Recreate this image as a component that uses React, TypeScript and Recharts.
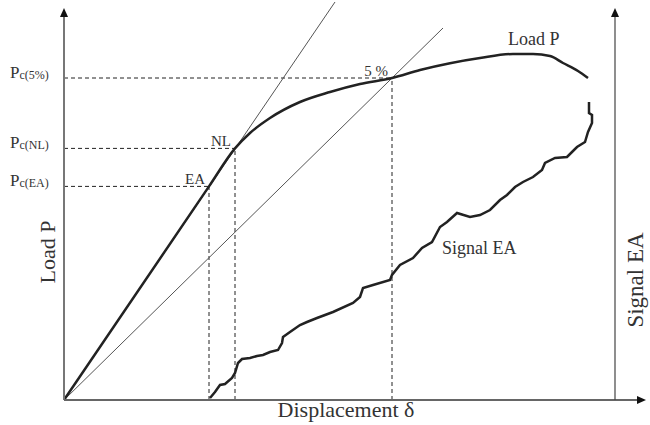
import React from "react";
import { ComposedChart, Line, XAxis, YAxis, ReferenceLine, ReferenceDot } from "recharts";

// load curve P(δ) (displacement / load, arbitrary units)
const loadDisp = [0, 29, 34.2, 37.2, 41.2, 47.2, 53.2, 59.2, 65.6, 71.2, 77.2, 83.2, 89.8, 93.8, 97.2, 99.8, 102.8, 104.8];
const loadVal = [0, 53.4, 62.9, 66.75, 70.5, 74.5, 77, 79, 80.5, 82.5, 84.2, 85.5, 86.5, 86.5, 86, 84.25, 82.25, 80.5];

// acoustic emission signal
const signalDisp = [
  29.2, 30.2, 31.2, 32.2, 33.6, 34.2, 34.8, 35.6, 37.2, 38.6, 39.8, 41.2, 42.8, 43.6, 43.8,
  45.2, 47.2, 48.6, 50.6, 53.8, 57.8, 59.2, 59.8, 61.8, 65.2, 65.6, 67.2, 69.8, 71.6, 73.6,
  75.2, 76.6, 78.6, 81.2, 83.2, 85.2, 87.2, 88.6, 90.2, 91.8, 93.8, 95.6, 96.2, 98.2, 100.6,
  101.6, 102.6, 104.2, 104.8, 105.6, 105.6, 105, 105,
];
const signalVal = [
  0.5, 2, 3.75, 4, 5.5, 6.75, 9.25, 10.25, 10.5, 11, 11.25, 12, 12.5, 14.25, 15.75,
  17, 18.75, 19.5, 20.5, 22, 24.25, 25.75, 28, 28.75, 30, 31.25, 33.75, 35.5, 38, 39.5,
  43.25, 44.5, 46.75, 45.75, 46.25, 47.5, 50, 51.25, 53.25, 54.5, 55.75, 57.5, 59.25, 60.5, 60.75,
  62, 63.25, 64.5, 67, 69.25, 71.25, 71.75, 74.5,
];

// construction lines from the origin: initial tangent and 5 % offset secant
const tangentEnd = [54.2, 99.5];
const secantEnd = [75.8, 93];

// characteristic points
const pointNames = ["EA", "NL", "5 %"];
const pointDisp = [29, 34.2, 65.6];
const pointLoad = [53.4, 62.9, 80.5];
const levelLabels = ["EA", "NL", "5%"];

// axis extents
const xMax = 116.4;
const yTop = 98;
const signalAxisX = 110.2;

const zip = (xs: number[], ys: number[]) => xs.map((x, i) => ({ x, y: ys[i] }));
const loadData = zip(loadDisp, loadVal);
const signalData = zip(signalDisp, signalVal);
const tangentData = [{ x: 0, y: 0 }, { x: tangentEnd[0], y: tangentEnd[1] }];
const secantData = [{ x: 0, y: 0 }, { x: secantEnd[0], y: secantEnd[1] }];

const FONT = '"Liberation Serif", "Times New Roman", serif';
const INK = "#222";

const Arrow = (color: string, width: number) => (p: any) => {
  const { x1, y1, x2, y2 } = p;
  const ang = Math.atan2(y2 - y1, x2 - x1);
  const len = 9;
  const half = 4;
  const bx = x2 - len * Math.cos(ang);
  const by = y2 - len * Math.sin(ang);
  const nx = -Math.sin(ang) * half;
  const ny = Math.cos(ang) * half;
  return (
    <g>
      <line x1={x1} y1={y1} x2={bx} y2={by} stroke={color} strokeWidth={width} />
      <polygon points={`${x2},${y2} ${bx + nx},${by + ny} ${bx - nx},${by - ny}`} fill="#111" />
    </g>
  );
};

const levelLabel = (sub: string) => (props: any) => {
  const { x, y } = props.viewBox;
  return (
    <text x={x - 54} y={y} fontFamily={FONT} fill="#333">
      <tspan fontSize={17}>P</tspan>
      <tspan fontSize={12} dy={1}>{`c(${sub})`}</tspan>
    </text>
  );
};

const pointLabel = (text: string) => (props: any) => {
  const { x, y, width, height } = props.viewBox;
  const cx = x + width / 2;
  const cy = y + height / 2;
  return (
    <text x={cx - 4} y={cy - 2} textAnchor="end" fontFamily={FONT} fontSize={15} fill="#333">
      {text}
    </text>
  );
};

export default function App() {
  return (
    <div style={{ position: "absolute", left: 0, top: 0, background: "#fff" }}>
      <ComposedChart width={650} height={425} margin={{ top: 0, right: 4, bottom: 25, left: 64 }}>
        <XAxis type="number" dataKey="x" domain={[0, xMax]} hide />
        <YAxis type="number" dataKey="y" domain={[0, 100]} hide />

        {pointDisp.map((d, i) => (
          <ReferenceLine
            key={`h${i}`}
            segment={[{ x: 0, y: pointLoad[i] }, { x: d, y: pointLoad[i] }]}
            stroke="#222"
            strokeDasharray="4 3"
            strokeWidth={1}
            ifOverflow="visible"
            label={{ content: levelLabel(levelLabels[i]) }}
          />
        ))}
        {pointDisp.map((d, i) => (
          <ReferenceLine
            key={`v${i}`}
            segment={[{ x: d, y: 0 }, { x: d, y: pointLoad[i] }]}
            stroke="#222"
            strokeDasharray="4 3"
            strokeWidth={1}
            ifOverflow="visible"
          />
        ))}

        <Line data={tangentData} dataKey="y" type="linear" stroke="#555" strokeWidth={1} dot={false} isAnimationActive={false} />
        <Line data={secantData} dataKey="y" type="linear" stroke="#555" strokeWidth={1} dot={false} isAnimationActive={false} />
        <Line data={loadData} dataKey="y" type="monotone" stroke={INK} strokeWidth={2.5} dot={false} isAnimationActive={false} />
        <Line data={signalData} dataKey="y" type="linear" stroke={INK} strokeWidth={2.5} dot={false} isAnimationActive={false} />

        {pointDisp.map((d, i) => (
          <ReferenceDot
            key={`p${i}`}
            x={d}
            y={pointLoad[i]}
            r={1}
            fill="none"
            stroke="none"
            ifOverflow="visible"
            label={{ content: pointLabel(pointNames[i]) }}
          />
        ))}

        <ReferenceLine segment={[{ x: 0, y: 0 }, { x: 0, y: yTop }]} ifOverflow="visible" shape={Arrow("#777", 2)} />
        <ReferenceLine segment={[{ x: 0, y: 0 }, { x: xMax, y: 0 }]} ifOverflow="visible" shape={Arrow("#666", 2)} />
        <ReferenceLine segment={[{ x: signalAxisX, y: 0 }, { x: signalAxisX, y: yTop }]} ifOverflow="visible" shape={Arrow("#444", 1.2)} />

        <text x={508} y={45} fontFamily={FONT} fontSize={18} fill="#333">Load P</text>
        <text x={442} y={254} fontFamily={FONT} fontSize={18} fill="#333">Signal EA</text>
        <text x={346} y={417} textAnchor="middle" fontFamily={FONT} fontSize={22} fill="#333">Displacement δ</text>
        <text transform="translate(55,252) rotate(-90)" textAnchor="middle" fontFamily={FONT} fontSize={22} fill="#333">Load P</text>
        <text transform="translate(643,280) rotate(-90)" textAnchor="middle" fontFamily={FONT} fontSize={23} fill="#333">Signal EA</text>
      </ComposedChart>
    </div>
  );
}
